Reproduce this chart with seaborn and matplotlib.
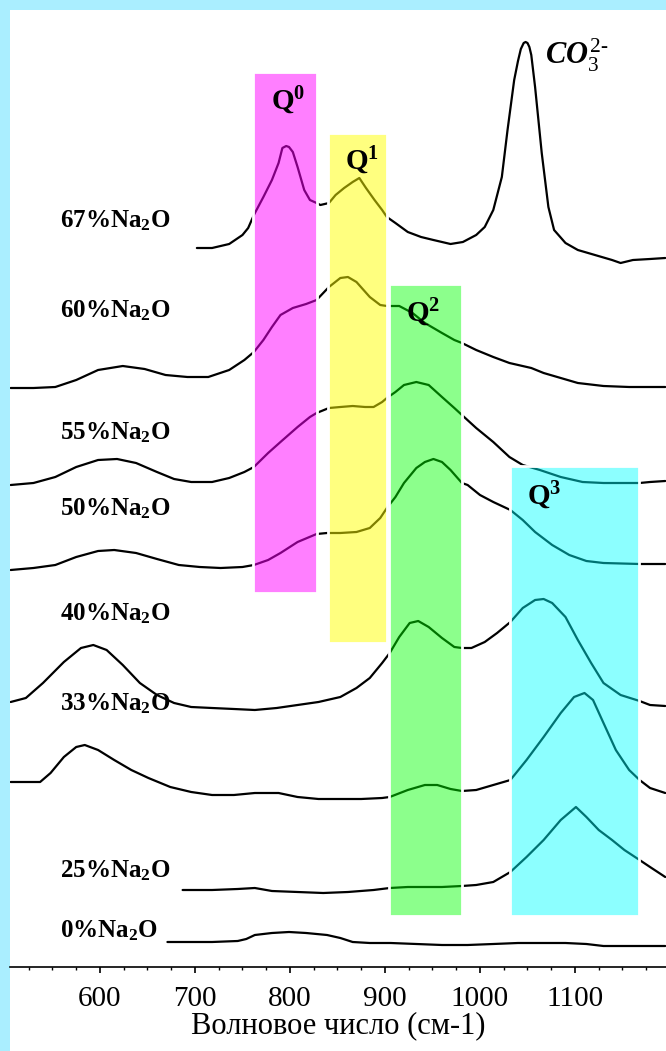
import numpy as np
import pandas as pd
import matplotlib
matplotlib.use("Agg")
import matplotlib.pyplot as plt
from matplotlib.patches import Rectangle
from matplotlib.ticker import MultipleLocator
import seaborn as sns

# ---------------- data ----------------
samples = ["67%", "60%", "55%", "50%", "40%", "33%", "25%", "0%"]

wn_67 = [702, 718, 736, 750, 756, 762, 772, 781, 788, 792, 796, 799, 803, 808, 815, 821, 828, 832, 841, 848,
         857, 866, 873, 880, 889, 897, 902, 911, 924, 938, 951, 969, 982, 996, 1005, 1014, 1023, 1029, 1036,
         1040, 1043, 1046, 1048, 1050, 1052, 1054, 1058, 1065, 1072, 1078, 1090, 1103, 1121, 1139, 1148, 1161,
         1179, 1195]
int_67 = [719, 719, 723, 732, 739, 752, 770, 787, 804, 819, 821, 820, 815, 800, 777, 767, 764, 762, 764, 772,
          779, 785, 789, 779, 767, 757, 750, 744, 735, 730, 727, 723, 725, 732, 740, 757, 790, 837, 887,
          906, 918, 924, 925, 924, 920, 912, 880, 814, 760, 737, 724, 717, 712, 707, 704, 707,
          708, 709]

wn_60 = [506, 530, 553, 575, 598, 624, 647, 669, 692, 714, 736, 752, 762, 772, 781, 790, 803, 817, 828, 835,
         841, 853, 861, 870, 884, 895, 902, 915, 929, 942, 960, 973, 981, 996, 1014, 1031, 1054, 1067, 1085,
         1103, 1130, 1157, 1179, 1195]
int_60 = [579, 579, 580, 587, 597, 601, 598, 592, 590, 590, 597, 607, 615, 627, 640, 652, 659, 663, 667, 674,
          680, 689, 690, 685, 670, 662, 661, 661, 654, 644, 634, 627, 624, 617, 610, 604, 599, 594, 589,
          584, 581, 580, 580, 580]

wn_55 = [506, 530, 553, 575, 598, 618, 638, 660, 678, 696, 718, 736, 752, 762, 777, 790, 808, 821, 828, 841,
         853, 866, 879, 888, 897, 902, 911, 920, 933, 946, 960, 973, 981, 996, 1014, 1031, 1045, 1063, 1085,
         1108, 1130, 1168, 1179, 1195]
int_55 = [482, 484, 490, 500, 507, 508, 504, 495, 488, 485, 485, 489, 495, 500, 514, 525, 540, 550, 554, 559,
          560, 561, 560, 560, 565, 569, 575, 582, 585, 582, 570, 559, 552, 539, 525, 510, 502, 497, 490,
          485, 484, 484, 485, 486]

wn_50 = [506, 530, 553, 575, 598, 615, 638, 660, 683, 705, 727, 750, 762, 777, 790, 808, 828, 839, 853, 870,
         884, 895, 902, 911, 920, 933, 942, 951, 960, 969, 981, 987, 1000, 1014, 1032, 1045, 1058, 1076, 1094,
         1112, 1130, 1168, 1195]
int_50 = [397, 399, 402, 410, 416, 417, 414, 408, 402, 400, 399, 400, 402, 407, 414, 425, 433, 434, 434, 435,
          439, 449, 459, 470, 484, 499, 505, 508, 505, 497, 484, 482, 472, 465, 457, 447, 435, 422, 412,
          406, 404, 403, 403]

wn_40 = [506, 522, 540, 562, 580, 593, 607, 624, 642, 660, 678, 696, 718, 741, 763, 786, 808, 830, 853, 870,
         884, 897, 905, 915, 926, 935, 946, 960, 973, 981, 991, 1005, 1018, 1032, 1045, 1058, 1067, 1076, 1090,
         1103, 1117, 1130, 1148, 1168, 1179, 1195]
int_40 = [265, 269, 284, 305, 319, 322, 317, 302, 284, 272, 264, 260, 259, 258, 257, 259, 262, 265, 270, 279,
          289, 304, 314, 330, 344, 346, 340, 329, 320, 319, 319, 325, 334, 345, 359, 367, 368, 364, 350,
          327, 304, 284, 272, 266, 262, 261]

wn_33 = [506, 537, 548, 562, 575, 584, 598, 615, 633, 651, 674, 696, 718, 741, 763, 788, 808, 830, 853, 875,
         897, 905, 924, 942, 955, 969, 981, 996, 1014, 1032, 1049, 1067, 1085, 1099, 1110, 1119, 1130, 1143,
         1157, 1168, 1179, 1195]
int_33 = [185, 185, 194, 210, 220, 222, 217, 207, 197, 189, 180, 175, 172, 172, 174, 174, 170, 168, 168, 168,
          169, 170, 177, 182, 182, 178, 176, 177, 182, 187, 207, 230, 254, 270, 274, 267, 244, 217,
          197, 187, 179, 174]

wn_25 = [687, 718, 745, 763, 781, 808, 835, 861, 888, 905, 924, 942, 960, 981, 996, 1014, 1032, 1049, 1067,
         1085, 1101, 1112, 1125, 1139, 1152, 1168, 1179, 1195]
int_25 = [77, 77, 78, 79, 76, 75, 74, 75, 77, 79, 80, 80, 80, 81, 82, 85, 95, 110, 127, 147, 160, 150, 137,
          127, 117, 107, 100, 90]

wn_0 = [671, 696, 718, 745, 754, 763, 781, 799, 817, 839, 853, 866, 884, 906, 933, 960, 987, 1014, 1040, 1067,
        1090, 1112, 1130, 1152, 1179, 1195]
int_0 = [25, 25, 25, 26, 28, 32, 34, 35, 34, 32, 29, 25, 24, 24, 23, 22, 22, 23, 24, 24, 24, 23, 21, 21, 21, 21]

band_names = ["0", "1", "2", "3"]
band_lo = [761, 840, 904, 1032]
band_hi = [828, 902, 981, 1167]
band_bottom = [374, 324, 51, 51]
band_top = [895, 834, 683, 501]

xticks = [600, 700, 800, 900, 1000, 1100]
xlabel = "Волновое число (см-1)"

# ---------------- build long-form frame ----------------
wns = [wn_67, wn_60, wn_55, wn_50, wn_40, wn_33, wn_25, wn_0]
ints = [int_67, int_60, int_55, int_50, int_40, int_33, int_25, int_0]
frames = [pd.DataFrame({"wavenumber": w, "intensity": i, "sample": s})
          for s, w, i in zip(samples, wns, ints)]
df = pd.concat(frames, ignore_index=True)

# ---------------- style ----------------
sns.set_style("white")
plt.rcParams["font.family"] = ["Liberation Serif", "DejaVu Serif"]
plt.rcParams["mathtext.fontset"] = "custom"
plt.rcParams["mathtext.rm"] = "Liberation Serif"
plt.rcParams["mathtext.it"] = "Liberation Serif:italic:bold"
plt.rcParams["mathtext.bf"] = "Liberation Serif:bold"
plt.rcParams["text.color"] = "black"
plt.rcParams["axes.labelcolor"] = "black"
plt.rcParams["xtick.color"] = "black"

W, H = 666, 1051
fig = plt.figure(figsize=(W / 100, H / 100), dpi=100)
fig.patch.set_facecolor("#AAEEFF")
fig.patches.append(Rectangle((10 / W, 0), 1 - 10 / W, 1 - 10 / H, transform=fig.transFigure,
                             facecolor="white", edgecolor="none", zorder=-10))

ax = fig.add_axes([10 / W, (H - 967) / H, 1 - 10 / W, (967 - 10) / H])
ax.set_facecolor("white")

sns.lineplot(data=df, x="wavenumber", y="intensity", units="sample", estimator=None,
             color="black", linewidth=1.6, sort=False, legend=False, ax=ax, zorder=2)

band_colors = [(1.0, 0.0, 1.0, 0.5), (1.0, 1.0, 0.0, 0.5), (0.0, 1.0, 0.0, 0.45), (0.0, 1.0, 1.0, 0.45)]
for lo, hi, b, t, c in zip(band_lo, band_hi, band_bottom, band_top, band_colors):
    ax.add_patch(Rectangle((lo, b), hi - lo, t - b, facecolor=c, edgecolor="white",
                           linewidth=2.0, zorder=3))

# Q labels
q_pos = [(780, 857), (858, 797), (922, 645), (1050, 462)]
for name, (qx, qy) in zip(band_names, q_pos):
    ax.text(qx, qy, r"Q$^{\mathbf{%s}}$" % name, fontsize=21, fontweight="bold",
            ha="left", va="baseline", zorder=5)

# sample labels
label_y = [740, 650, 528, 452, 347, 257, 90, 30]
for s, ly in zip(samples, label_y):
    ax.text(558, ly, s + r"Na$_{\mathbf{2}}$O", fontsize=18, fontweight="bold",
            ha="left", va="baseline", zorder=5)

# carbonate label
ax.text(1068, 902, r"$CO_{\mathit{3}}^{\mathit{2}\text{-}}$", fontsize=22, ha="left",
        va="baseline", zorder=5)

ax.set_xlim(505.3, 1195.8)
ax.set_ylim(0, 957)
ax.set_xticks(xticks)
ax.xaxis.set_minor_locator(MultipleLocator(25))
ax.set_yticks([])
ax.set_xlabel(xlabel, fontsize=22, labelpad=-1)
ax.set_ylabel("")
for side in ["top", "left", "right"]:
    ax.spines[side].set_visible(False)
ax.spines["bottom"].set_linewidth(1.2)
ax.spines["bottom"].set_color("black")
ax.tick_params(axis="x", which="major", direction="out", length=4, width=1.2,
               labelsize=21, pad=10, bottom=True, colors="black")
ax.tick_params(axis="x", which="minor", direction="out", length=2.5, width=1.0, bottom=True)

fig.savefig("out.png", dpi=100, facecolor=fig.get_facecolor())
